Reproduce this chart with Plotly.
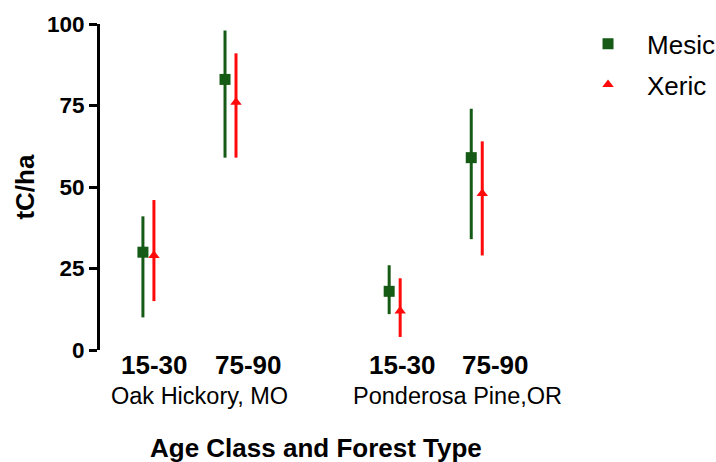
import plotly.graph_objects as go

# Age classes within each forest type
age_classes = ["15-30", "75-90", "15-30", "75-90"]
forest_types = ["Oak Hickory, MO", "Ponderosa Pine,OR"]
slot = [0, 1, 3, 4]

# Carbon stock (tC/ha): means with upper/lower range ends
mesic_mean = [30, 83, 18, 59]
mesic_high = [41, 98, 26, 74]
mesic_low = [10, 59, 11, 34]

xeric_mean = [29, 76, 12, 48]
xeric_high = [46, 91, 22, 64]
xeric_low = [15, 59, 4, 29]

GREEN = "#155a15"
RED = "#ff0a0a"
FONT = "Liberation Sans, Arial, sans-serif"
dx = 0.067

fig = go.Figure()
fig.add_trace(go.Scatter(
    x=[s - dx for s in slot], y=mesic_mean, mode="markers", name="Mesic",
    legendgroup="mesic",
    marker=dict(symbol="square", size=11, color=GREEN),
    error_y=dict(type="data", symmetric=False,
                 array=[h - m for h, m in zip(mesic_high, mesic_mean)],
                 arrayminus=[m - l for m, l in zip(mesic_mean, mesic_low)],
                 color=GREEN, thickness=3, width=0),
    cliponaxis=False,
))
fig.add_trace(go.Scatter(
    x=[s + dx for s in slot], y=xeric_mean, mode="markers", name="Xeric",
    legendgroup="xeric",
    marker=dict(symbol="triangle-up", size=10, color=RED),
    error_y=dict(type="data", symmetric=False,
                 array=[h - m for h, m in zip(xeric_high, xeric_mean)],
                 arrayminus=[m - l for m, l in zip(xeric_mean, xeric_low)],
                 color=RED, thickness=3, width=0),
    cliponaxis=False,
))

annotations = []
# Bold age-class labels under each pair of markers
label_x = [0.08, 1.22, 3.09, 4.23]
for xv, txt in zip(label_x, age_classes):
    annotations.append(dict(x=xv, y=-0.046, xref="x", yref="paper", text=f"<b>{txt}</b>",
                            showarrow=False, font=dict(size=26, color="black", family=FONT),
                            xanchor="center", yanchor="middle"))
# Forest type labels
for xv, txt in zip([0.62, 3.77], forest_types):
    annotations.append(dict(x=xv, y=-0.14, xref="x", yref="paper", text=txt,
                            showarrow=False, font=dict(size=23.5, color="black", family=FONT),
                            xanchor="center", yanchor="middle"))
# Axis titles
annotations.append(dict(x=0.508, y=-0.302, xref="paper", yref="paper",
                        text="<b>Age Class and Forest Type</b>", showarrow=False,
                        font=dict(size=26, color="black", family=FONT),
                        xanchor="center", yanchor="middle"))
annotations.append(dict(x=-0.177, y=0.5, xref="paper", yref="paper",
                        text="<b>tC/ha</b>", textangle=-90, showarrow=False,
                        font=dict(size=26, color="black", family=FONT),
                        xanchor="center", yanchor="middle"))

yticks = [0, 25, 50, 75, 100]
fig.update_layout(
    width=716, height=462,
    margin=dict(l=100, r=190, t=24, b=112, autoexpand=False),
    paper_bgcolor="white", plot_bgcolor="white",
    font=dict(family=FONT, color="black"),
    showlegend=True,
    legend=dict(x=1.101, y=1.011, xanchor="left", yanchor="top",
                font=dict(size=26, color="black", family=FONT),
                bgcolor="rgba(0,0,0,0)", itemwidth=68, tracegroupgap=4),
    xaxis=dict(range=[-0.59, 4.6], showline=False, showgrid=False, zeroline=False,
               showticklabels=False, ticks=""),
    yaxis=dict(range=[0, 100], showline=True, linewidth=3, linecolor="black",
               showgrid=False, zeroline=False, ticks="outside", ticklen=8, tickwidth=3,
               tickcolor="black", tickvals=yticks,
               ticktext=[f"<b>{v}</b>" for v in yticks],
               tickfont=dict(size=22.5, color="black", family=FONT)),
    annotations=annotations,
)

fig.write_html("out.html")
